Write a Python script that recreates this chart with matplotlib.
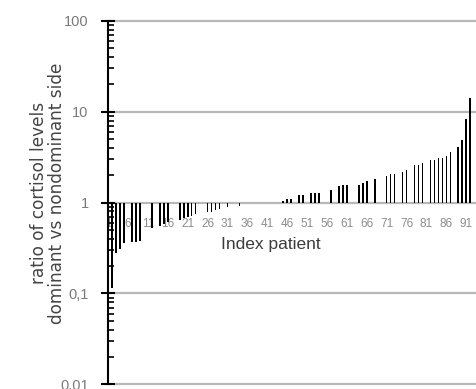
import matplotlib
matplotlib.use("Agg")
import matplotlib.pyplot as plt
from matplotlib.ticker import FixedLocator, FuncFormatter, LogLocator, NullFormatter
import numpy as np

plt.rcParams["font.family"] = ["Liberation Sans", "DejaVu Sans"]

# Patient index and ratio of cortisol levels (dominant / nondominant side)
patient_index = [1, 2, 3, 4, 5, 7, 8, 9, 12, 14, 15, 16, 19, 20, 21, 22, 23,
                 26, 27, 28, 29, 31, 34,
                 45, 46, 47, 49, 50, 52, 53, 54, 57, 59, 60, 61, 64, 65, 66, 68,
                 71, 72, 73, 75, 76, 78, 79, 80, 82, 83, 84, 85, 86, 87,
                 89, 90, 91, 92]
ratio = [0.11, 0.115, 0.278, 0.31, 0.36, 0.37, 0.37, 0.38, 0.52, 0.55, 0.58, 0.61,
         0.64, 0.67, 0.69, 0.72, 0.75,
         0.78, 0.79, 0.82, 0.86, 0.90, 0.93,
         1.05, 1.10, 1.10, 1.22, 1.22, 1.27, 1.27, 1.27, 1.38, 1.51, 1.58, 1.58,
         1.58, 1.65, 1.72, 1.80,
         1.99, 2.07, 2.07, 2.16, 2.26, 2.61, 2.61, 2.72, 2.96, 2.96, 3.10, 3.12,
         3.25, 3.59,
         4.08, 4.93, 8.4, 14.3]

xtick_positions = list(range(1, 92, 5))
xtick_labels = [str(v) for v in xtick_positions]
ytick_values = [0.01, 0.1, 1, 10, 100]
ytick_labels = ["0,01", "0,1", "1", "10", "100"]

W, H = 476, 389
fig = plt.figure(figsize=(W / 100, H / 100), dpi=100)
ax = fig.add_axes([108 / W, 4.7 / H, 1 - 108 / W, (384.3 - 21) / H])

grid_col = "#b8b8b8"
ax.set_yscale("log")
ax.set_ylim(0.01, 100)
ax.set_xlim(0.97, 93.45)

x = np.array(patient_index)
r = np.array(ratio)
ax.bar(x, r - 1, bottom=1, width=0.4, color="black", zorder=3)

# grid
for v in ytick_values:
    ax.axhline(v, color=grid_col, lw=1.6, zorder=1, clip_on=False)

# spines
ax.spines["top"].set_visible(False)
ax.spines["right"].set_visible(False)
ax.spines["left"].set_linewidth(1.5)
ax.spines["left"].set_zorder(4)
ax.spines["bottom"].set_position(("data", 1))
ax.spines["bottom"].set_visible(False)

lab = dict(zip(ytick_values, ytick_labels))
ax.yaxis.set_major_locator(FixedLocator(ytick_values))
ax.yaxis.set_major_formatter(FuncFormatter(lambda v, p: lab.get(v, "")))
ax.yaxis.set_minor_locator(LogLocator(base=10, subs=np.arange(2, 10)))
ax.yaxis.set_minor_formatter(NullFormatter())
ax.tick_params(axis="y", which="major", direction="inout", length=10, width=1.5,
               labelsize=10.5, labelcolor="#7a7a7a", pad=9)
ax.tick_params(axis="y", which="minor", direction="in", length=4, width=1.2)

ax.set_xticks(xtick_positions)
ax.set_xticklabels(xtick_labels)
ax.tick_params(axis="x", length=0, labelsize=8.5, labelcolor="#8c8c8c", pad=11)
for t in ax.get_xticklabels():
    t.set_zorder(5)

fig.text(271 / W, 1 - 244 / H, "Index patient", ha="center", va="center",
         fontsize=12.5, color="#3c3c3c")
fig.text(48 / W, 1 - 193 / H, "ratio of cortisol levels\ndominant vs nondominant side",
         rotation=90, ha="center", va="center", fontsize=12.2, color="#444444",
         family="DejaVu Sans", linespacing=1.0, multialignment="center")

fig.savefig("out.png", dpi=100)
